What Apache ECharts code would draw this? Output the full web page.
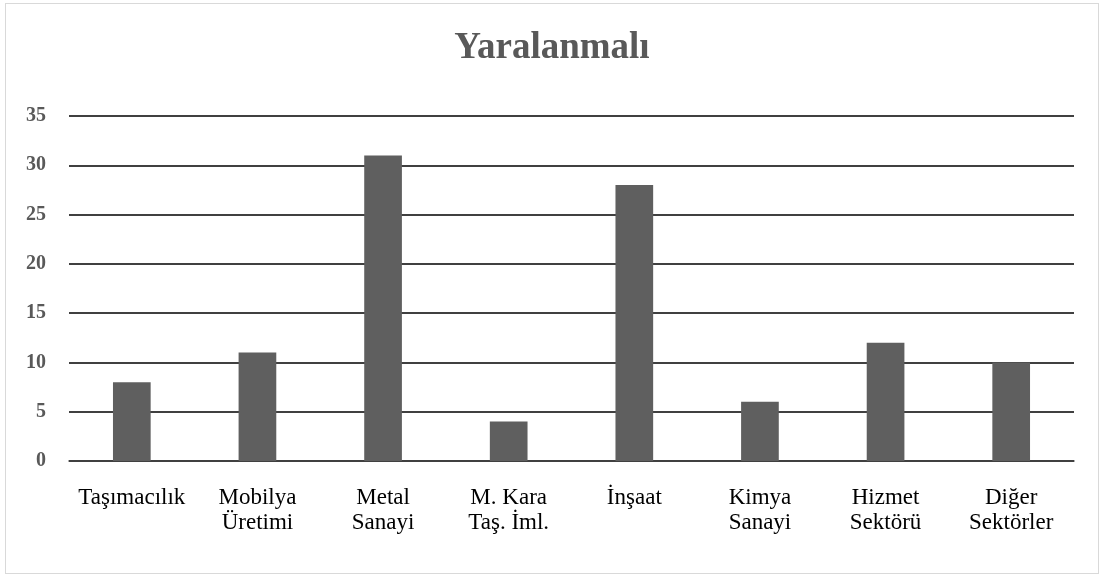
<!DOCTYPE html>
<html>
<head>
<meta charset="utf-8">
<script src="https://cdn.jsdelivr.net/npm/echarts@6/dist/echarts.min.js"></script>
<style>
  html, body { margin: 0; padding: 0; background: #fff; }
  #wrap { position: absolute; left: 5px; top: 3px; width: 1094px; height: 571px; border: 1px solid #d9d9d9; box-sizing: border-box; }
  #chart { width: 100%; height: 100%; }
</style>
</head>
<body>
<div id="wrap"><div id="chart"></div></div>
<script>
// kategoriler ve değerler
var categories = ['Taşımacılık', 'Mobilya\nÜretimi', 'Metal\nSanayi', 'M. Kara\nTaş. İml.', 'İnşaat', 'Kimya\nSanayi', 'Hizmet\nSektörü', 'Diğer\nSektörler'];
var values = [8, 11, 31, 4, 28, 6, 12, 10];
var yTicks = [0, 5, 10, 15, 20, 25, 30, 35];

var myChart = echarts.init(document.getElementById('chart'));
var option = {
    animation: false,
    title: {
        text: 'Yaralanmalı',
        left: 'center',
        top: 21,
        textStyle: {
            fontFamily: 'Liberation Serif',
            fontWeight: 'bold',
            fontSize: 37,
            color: '#595959'
        }
    },
    grid: {
        left: 63,
        right: 24,
        top: 112,
        bottom: 112
    },
    xAxis: {
        type: 'category',
        data: categories,
        axisTick: { show: false },
        axisLine: { lineStyle: { color: '#404040', width: 1.5 } },
        axisLabel: {
            interval: 0,
            margin: 24,
            fontFamily: 'Liberation Serif',
            fontSize: 23,
            lineHeight: 25,
            color: '#000'
        }
    },
    yAxis: {
        type: 'value',
        min: yTicks[0],
        max: yTicks[yTicks.length - 1],
        interval: 5,
        axisLine: { show: false },
        axisTick: { show: false },
        splitLine: { lineStyle: { color: '#000', width: 1.5 } },
        axisLabel: {
            margin: 23,
            fontFamily: 'Liberation Serif',
            fontWeight: 'bold',
            fontSize: 20,
            color: '#595959'
        }
    },
    series: [{
        type: 'bar',
        data: values,
        barWidth: '30%',
        itemStyle: { color: '#5f5f5f' }
    }]
};
myChart.setOption(option);
</script>
</body>
</html>
